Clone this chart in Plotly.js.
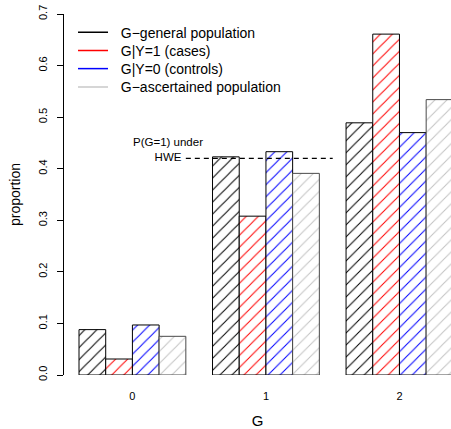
<!DOCTYPE html>
<html>
<head>
<meta charset="utf-8">
<script src="https://cdn.plot.ly/plotly-3.0.1.min.js"></script>
<style>html,body{margin:0;padding:0;background:#fff;}#chart{width:451px;height:429px;}</style>
</head>
<body>
<div id="chart"></div>
<script>
// Data
var categories = ["0", "1", "2"];
var seriesNames = ["G\u2212general population", "G|Y=1 (cases)", "G|Y=0 (controls)", "G\u2212ascertained population"];
var generalPop = [0.088, 0.423, 0.489];
var cases = [0.031, 0.308, 0.661];
var controls = [0.097, 0.433, 0.470];
var ascertained = [0.075, 0.391, 0.534];
var hweP1 = 0.42;
var yTicks = [0.0, 0.1, 0.2, 0.3, 0.4, 0.5, 0.6, 0.7];

var seriesValues = [generalPop, cases, controls, ascertained];
var hatchColors = ["#000000", "#FF0000", "#0000FF", "#C4C4C4"];
var borderColors = ["#000000", "#000000", "#000000", "#4a4a4a"];
var legendColors = ["#000000", "#FF0000", "#0000FF", "#C8C8C8"];
var legendIds = ["legend", "legend2", "legend3", "legend4"];
var legendY = [0.948, 0.898, 0.8476, 0.797];
var xIdx = categories.map(function (c, i) { return i; });

var traces = [];
seriesValues.forEach(function (vals, k) {
  traces.push({
    type: "bar",
    x: xIdx,
    y: vals,
    showlegend: false,
    hoverinfo: "skip",
    marker: {
      color: "#ffffff",
      line: { color: borderColors[k], width: 1 },
      pattern: { shape: "/", fgcolor: hatchColors[k], bgcolor: "#ffffff", size: 8.5, solidity: 0.12, fillmode: "replace" }
    }
  });
});
seriesNames.forEach(function (name, k) {
  traces.push({
    type: "scatter",
    mode: "lines",
    x: [null],
    y: [null],
    name: "\u00a0\u00a0" + name,
    legend: legendIds[k],
    line: { color: legendColors[k], width: 1.5 },
    hoverinfo: "skip"
  });
});

var font = "Liberation Sans, Arial, Helvetica, sans-serif";
var layout = {
  width: 451,
  height: 429,
  margin: { l: 64, r: 0, t: 14, b: 54, pad: 0 },
  paper_bgcolor: "#ffffff",
  plot_bgcolor: "#ffffff",
  font: { family: font, color: "#000" },
  barmode: "group",
  bargap: 0.2,
  bargroupgap: 0,
  showlegend: true,
  xaxis: {
    range: [-0.5124, 2.386],
    tickvals: xIdx,
    ticktext: categories,
    ticks: "",
    showline: false,
    showgrid: false,
    zeroline: false,
    tickfont: { size: 11, family: font },
    ticklabelstandoff: 13,
    title: { text: "G", font: { size: 15, family: font }, standoff: 20 }
  },
  yaxis: {
    range: [0, 0.7],
    tickvals: yTicks,
    tickformat: ".1f",
    ticks: "outside",
    ticklen: 6,
    tickcolor: "#000",
    tickangle: -90,
    showline: true,
    linecolor: "#000",
    linewidth: 1,
    showgrid: false,
    zeroline: false,
    tickfont: { size: 11, family: font },
    ticklabelstandoff: 6,
    title: { text: "proportion", font: { size: 14, family: font }, standoff: 12 }
  },
  shapes: [{
    type: "line", xref: "x", yref: "y",
    x0: 0.4, x1: 1.5, y0: hweP1, y1: hweP1,
    line: { color: "#000", width: 1.3, dash: "5px,4px" }
  }],
  annotations: [{
    xref: "x", yref: "y", x: 0.263, y: 0.437,
    text: "P(G=1) under<br>HWE", showarrow: false,
    xanchor: "center", yanchor: "middle", align: "center",
    font: { size: 11.5, family: font, color: "#000" }
  }]
};
legendIds.forEach(function (id, k) {
  layout[id] = {
    x: 0.0233, y: legendY[k], xanchor: "left", yanchor: "middle",
    bgcolor: "rgba(0,0,0,0)", borderwidth: 0,
    font: { size: 14, family: font, color: "#000" }
  };
});

Plotly.newPlot("chart", traces, layout, { displayModeBar: false, staticPlot: true });
</script>
</body>
</html>
